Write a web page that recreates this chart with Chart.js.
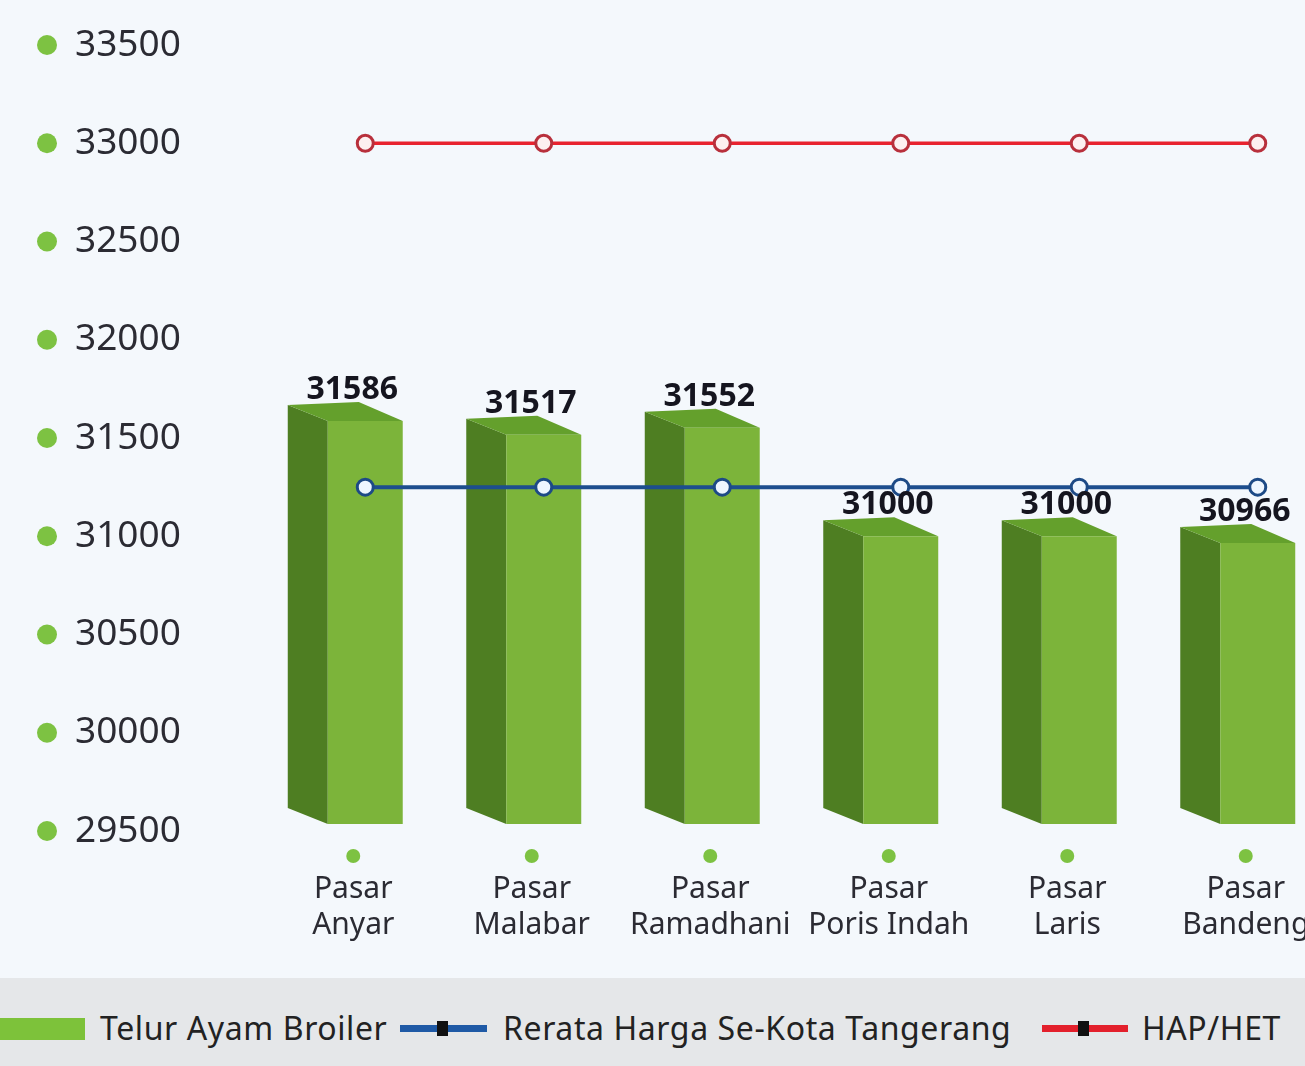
<!DOCTYPE html>
<html>
<head>
<meta charset="utf-8">
<script src="https://cdn.jsdelivr.net/npm/chart.js@4.4.1/dist/chart.umd.min.js"></script>
<style>
body{margin:0;background:#f4f8fc;overflow:hidden;width:1305px;height:1066px;position:relative;font-family:"Noto Sans",sans-serif}
#wrap{position:absolute;left:0;top:0}
#legend{position:absolute;left:0;top:978px;width:1305px;height:88px;background:#e5e7e9}
.txt{position:absolute;top:27px;font-size:32px;letter-spacing:0.6px;line-height:46px;color:#222;white-space:nowrap}
.sw{position:absolute}
</style>
</head>
<body>
<div id="wrap"><canvas id="chart" width="1358" height="978"></canvas></div>
<div id="legend">
  <div class="sw" style="left:0;top:40px;width:85px;height:22px;background:#7dc23a"></div>
  <div class="txt" style="left:100px">Telur Ayam Broiler</div>
  <div class="sw" style="left:400px;top:47px;width:87px;height:7px;background:#1f5aa6"></div>
  <div class="sw" style="left:437px;top:43px;width:11px;height:15px;background:#111"></div>
  <div class="txt" style="left:503px">Rerata Harga Se-Kota Tangerang</div>
  <div class="sw" style="left:1042px;top:47px;width:86px;height:7px;background:#e3202c"></div>
  <div class="sw" style="left:1078px;top:43px;width:11px;height:15px;background:#111"></div>
  <div class="txt" style="left:1142px">HAP/HET</div>
</div>
<script>
// data
const markets = [["Pasar","Anyar"],["Pasar","Malabar"],["Pasar","Ramadhani"],["Pasar","Poris Indah"],["Pasar","Laris"],["Pasar","Bandeng"]];
const eggPrices = [31586, 31517, 31552, 31000, 31000, 30966];
const cityAverage = [31250, 31250, 31250, 31250, 31250, 31250];
const hapHet = [33000, 33000, 33000, 33000, 33000, 33000];
const yMin = 29500, yMax = 33500, yStep = 500;

const FRONT = "#7cb43a", SIDE = "#4e7e22", TOP = "#64a02c";
const DX = -40, DY = -16;

function poly(ctx, pts, color){
    ctx.beginPath();
    ctx.moveTo(pts[0][0], pts[0][1]);
    for(let i=1;i<pts.length;i++) ctx.lineTo(pts[i][0], pts[i][1]);
    ctx.closePath();
    ctx.fillStyle = color;
    ctx.fill();
}

// 3D boxes drawn from the bar elements
const box3d = {
    id:"box3d",
    afterDatasetDraw(chart, args){
        if(args.index!==0) return;
        const ctx = chart.ctx;
        ctx.save();
        args.meta.data.forEach(bar=>{
            let L = bar.x - bar.width/2, R = bar.x + bar.width/2, T = bar.y, B = bar.base - 7;
            poly(ctx, [[L,T],[L+DX,T+DY],[L+DX,B+DY],[L,B]], SIDE);
            poly(ctx, [[L,T],[L+DX,T+DY],[R+DX-4,T+DY-3],[R,T]], TOP);
            poly(ctx, [[L,T],[R,T],[R,B],[L,B]], FRONT);
        });
        ctx.restore();
    }
};

// dots on axis, x labels, value labels
const decor = {
    id:"decor",
    afterDraw(chart){
        const ctx = chart.ctx;
        const y = chart.scales.y, x = chart.scales.x;
        ctx.save();
        ctx.fillStyle = "#7dc242";
        y.ticks.forEach(t=>{
            ctx.beginPath();
            ctx.arc(47, y.getPixelForValue(t.value), 10, 0, Math.PI*2);
            ctx.fill();
        });
        markets.forEach((m,i)=>{
            let px = x.getPixelForValue(i) - 12;
            ctx.fillStyle = "#7dc242";
            ctx.beginPath();
            ctx.arc(px, 856, 7, 0, Math.PI*2);
            ctx.fill();
            ctx.fillStyle = "#2b2b33";
            ctx.font = "30px 'Noto Sans'";
            ctx.textAlign = "center";
            ctx.textBaseline = "middle";
            ctx.fillText(m[0], px, 889);
            ctx.fillText(m[1], px, 925);
        });
        const meta = chart.getDatasetMeta(0);
        ctx.fillStyle = "#15151f";
        ctx.font = "bold 32px 'Noto Sans'";
        ctx.textAlign = "center";
        ctx.textBaseline = "bottom";
        meta.data.forEach((bar,i)=>{
            ctx.fillText(eggPrices[i], bar.x - 13, bar.y - 15);
        });
        ctx.restore();
    }
};

new Chart(document.getElementById("chart"), {
    type:"bar",
    data:{
        labels: markets,
        datasets:[
            {label:"Telur Ayam Broiler", data:eggPrices, base:yMin, backgroundColor:"rgba(0,0,0,0)", categoryPercentage:1, barPercentage:0.42, order:1},
            {label:"Rerata Harga Se-Kota Tangerang", type:"line", data:cityAverage, borderColor:"#1d4e8e", borderWidth:4,
             pointRadius:8, pointBorderWidth:3, pointBackgroundColor:"#eef6ff", pointBorderColor:"#1d4a86", order:0},
            {label:"HAP/HET", type:"line", data:hapHet, borderColor:"#e8232f", borderWidth:3.5,
             pointRadius:8, pointBorderWidth:3, pointBackgroundColor:"#fdf0f0", pointBorderColor:"#b8303c", order:0}
        ]
    },
    options:{
        responsive:false,
        animation:false,
        layout:{padding:{left:75, top:45, right:0, bottom:0}},
        plugins:{legend:{display:false}, tooltip:{enabled:false}},
        scales:{
            x:{
                offset:true,
                grid:{display:false}, border:{display:false},
                ticks:{display:false},
                afterFit(s){ s.height = 147; }
            },
            y:{
                min:yMin, max:yMax,
                grid:{display:false}, border:{display:false},
                ticks:{stepSize:yStep, crossAlign:"far", color:"#2b2b33", font:{family:"Noto Sans", size:37},
                       callback:v=>String(v)},
                afterFit(s){ s.width = 201; }
            }
        }
    },
    plugins:[box3d, decor]
});
</script>
</body>
</html>
